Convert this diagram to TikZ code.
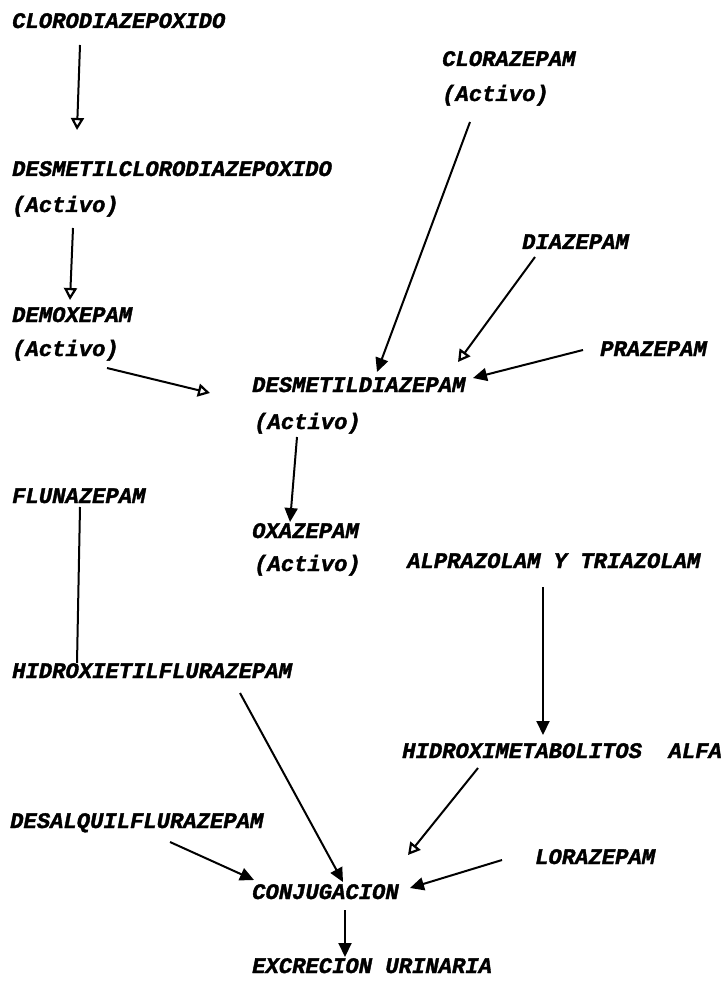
\documentclass[tikz,border=0pt]{standalone}
\usepackage{fontspec}
\newfontfamily\tw{Liberation Mono}[BoldItalicFeatures={FakeBold=1.6}]
\usetikzlibrary{arrows.meta,calc}
\begin{document}
\begin{tikzpicture}[x=1pt,y=-1pt,
  lbl/.style={anchor=base west,inner sep=0pt,font=\tw\bfseries\itshape\fontsize{22.2}{24}\selectfont},
  conn/.style={line width=2pt},
  fullarr/.style={conn,-{Triangle[length=14pt,width=13pt]}},
  openarr/.style={conn,-{Triangle[open,length=12pt,width=13pt,line width=2.2pt]}}]
\fill[white] (0,0) rectangle (725,981);
\useasboundingbox (0,0) rectangle (725,981);
\node[lbl] (n1) at (12,28) {CLORODIAZEPOXIDO};
\node[lbl] (n2) at (12,176) {DESMETILCLORODIAZEPOXIDO};
\node[lbl] (n2a) at (12,212) {(Activo)};
\node[lbl] (n3) at (12,322) {DEMOXEPAM};
\node[lbl] (n3a) at (12,356) {(Activo)};
\node[lbl] (n4) at (442,66) {CLORAZEPAM};
\node[lbl] (n4a) at (442,101) {(Activo)};
\node[lbl] (n5) at (522,249) {DIAZEPAM};
\node[lbl] (n6) at (600,356) {PRAZEPAM};
\node[lbl] (n7) at (252,392) {DESMETILDIAZEPAM};
\node[lbl] (n7a) at (254,429) {(Activo)};
\node[lbl] (n8) at (12,503) {FLUNAZEPAM};
\node[lbl] (n9) at (252,538) {OXAZEPAM};
\node[lbl] (n9a) at (254,571) {(Activo)};
\node[lbl] (n10) at (407,568) {ALPRAZOLAM Y TRIAZOLAM};
\node[lbl] (n11) at (12,678) {HIDROXIETILFLURAZEPAM};
\node[lbl] (n12) at (402,758) {HIDROXIMETABOLITOS\ \ ALFA};
\node[lbl] (n13) at (10,828) {DESALQUILFLURAZEPAM};
\node[lbl] (n14) at (535,864) {LORAZEPAM};
\node[lbl] (n15) at (252,899) {CONJUGACION};
\node[lbl] (n16) at (252,973) {EXCRECION URINARIA};
% connectors
\draw[openarr] ($(n1.base west)+(68,17)$) -- ($(n2.base west)+(65,-46)$);
\draw[openarr] ($(n2a.base west)+(61,16)$) -- ($(n3.base west)+(58,-22)$);
\draw[openarr] ($(n3a.base west)+(95,12)$) -- ($(n7.base west)+(-42,1)$);
\draw[fullarr] ($(n4a.base west)+(28,21)$) -- ($(n7.base west)+(125,-20)$);
\draw[openarr] ($(n5.base west)+(13,8)$) -- ($(n7.base west)+(206,-30)$);
\draw[fullarr] ($(n6.base west)+(-17,-6)$) -- ($(n7.base west)+(221,-14)$);
\draw[fullarr] ($(n7a.base west)+(43,8)$) -- ($(n9.base west)+(38,-16)$);
\draw[conn] ($(n8.base west)+(68,4)$) -- ($(n11.base west)+(65,-15)$);
\draw[fullarr] ($(n10.base west)+(136,19)$) -- ($(n12.base west)+(141,-23)$);
\draw[fullarr] ($(n11.base west)+(228,15)$) -- ($(n15.base west)+(91,-17)$);
\draw[openarr] ($(n12.base west)+(76,10)$) -- ($(n15.base west)+(156,-44)$);
\draw[fullarr] ($(n13.base west)+(160,14)$) -- ($(n15.base west)+(2,-19)$);
\draw[fullarr] ($(n14.base west)+(-33,-4)$) -- ($(n15.base west)+(158,-11)$);
\draw[fullarr] ($(n15.base west)+(93,11)$) -- ($(n16.base west)+(93,-16)$);
\end{tikzpicture}
\end{document}
